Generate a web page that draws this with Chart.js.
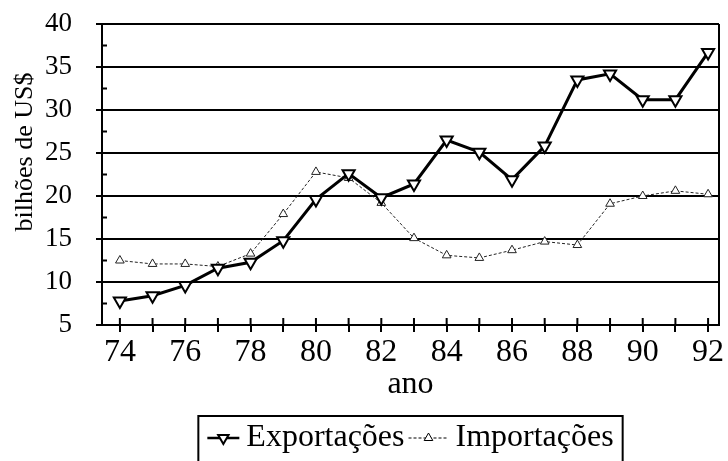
<!DOCTYPE html>
<html>
<head>
<meta charset="utf-8">
<script src="https://cdn.jsdelivr.net/npm/chart.js@4/dist/chart.umd.min.js"></script>
<style>
  body { margin: 0; background: #fff; }
  #wrap { width: 728px; height: 461px; }
</style>
</head>
<body>
<div id="wrap"><canvas id="tradeChart" width="728" height="461"></canvas></div>
<script>
// values
const years = [74, 75, 76, 77, 78, 79, 80, 81, 82, 83, 84, 85, 86, 87, 88, 89, 90, 91, 92];
const exportacoes = [7.8, 8.4, 9.6, 11.6, 12.3, 14.8, 19.6, 22.6, 19.8, 21.4, 26.5, 25.1, 21.9, 25.8, 33.5, 34.2, 31.2, 31.2, 36.7];
const importacoes = [12.5, 12.1, 12.1, 11.8, 13.3, 17.9, 22.8, 22.1, 19.2, 15.1, 13.1, 12.8, 13.7, 14.7, 14.3, 19.1, 20.0, 20.6, 20.2];
const yTicks = [5, 10, 15, 20, 25, 30, 35, 40];

const serif = '"Liberation Serif", "Times New Roman", serif';

function triangle(ctx, x, y, r, down) {
    const s = down ? -1 : 1;
    ctx.beginPath();
    ctx.moveTo(x, y - s * r);
    ctx.lineTo(x + r * 0.866, y + s * r * 0.5);
    ctx.lineTo(x - r * 0.866, y + s * r * 0.5);
    ctx.closePath();
    ctx.fill();
    ctx.stroke();
}

// frame, inner tick marks, y title and the boxed legend
const extras = {
    id: 'extras',
    afterDraw(chart) {
        const ctx = chart.ctx;
        const a = chart.chartArea;
        const xs = chart.scales.x, ys = chart.scales.y;
        ctx.save();
        ctx.strokeStyle = '#000';
        ctx.lineWidth = 2;
        ctx.beginPath();
        ctx.moveTo(a.right, a.top);
        ctx.lineTo(a.right, a.bottom);
        ctx.stroke();
        ctx.beginPath();
        years.forEach(v => {
            const px = xs.getPixelForValue(v);
            ctx.moveTo(px, a.bottom);
            ctx.lineTo(px, a.bottom - 7);
        });
        for (let v = 7.5; v < 40; v += 5) {
            const py = ys.getPixelForValue(v);
            ctx.moveTo(a.left, py);
            ctx.lineTo(a.left + 5, py);
        }
        ctx.stroke();

        // y axis title, sits a bit above the middle in the original
        ctx.fillStyle = '#000';
        ctx.save();
        ctx.translate(25, 152);
        ctx.rotate(-Math.PI / 2);
        ctx.font = '26px ' + serif;
        ctx.textAlign = 'center';
        ctx.textBaseline = 'middle';
        ctx.fillText('bilhões de US$', 0, 0);
        ctx.restore();

        // legend
        ctx.font = '32px ' + serif;
        ctx.textBaseline = 'middle';
        const items = [
            { text: 'Exportações', down: true, r: 6, lw: 2.5, dash: [], len: 32 },
            { text: 'Importações', down: false, r: 5, lw: 1, dash: [3, 2], len: 40 }
        ];
        const gapT = 7, gapI = 4, pad = 9;
        let total = pad * 2 + gapI;
        items.forEach(it => { it.w = ctx.measureText(it.text).width; total += it.len + gapT + it.w; });
        const cx = (a.left + a.right) / 2;
        let x = cx - total / 2;
        const top = 416, cy = 438;
        ctx.lineWidth = 2;
        ctx.setLineDash([]);
        ctx.strokeRect(x, top, total, 70);
        x += pad;
        items.forEach(it => {
            ctx.lineWidth = it.lw;
            ctx.setLineDash(it.dash);
            ctx.beginPath();
            ctx.moveTo(x, cy);
            ctx.lineTo(x + it.len, cy);
            ctx.stroke();
            ctx.setLineDash([]);
            ctx.lineWidth = it.down ? 2 : 1;
            ctx.fillStyle = '#fff';
            triangle(ctx, x + it.len / 2, cy, it.r, it.down);
            ctx.fillStyle = '#000';
            x += it.len + gapT;
            ctx.fillText(it.text, x, cy);
            x += it.w + gapI;
        });
        ctx.restore();
    }
};

new Chart(document.getElementById('tradeChart'), {
    type: 'line',
    data: {
        datasets: [{
            label: 'Exportações',
            data: years.map((yr, i) => ({ x: yr, y: exportacoes[i] })),
            borderColor: '#000',
            borderWidth: 3,
            pointStyle: 'triangle',
            rotation: 180,
            pointRadius: 7,
            pointBorderWidth: 2,
            pointBackgroundColor: '#fff',
            pointBorderColor: '#000',
            tension: 0
        }, {
            label: 'Importações',
            data: years.map((yr, i) => ({ x: yr, y: importacoes[i] })),
            borderColor: '#222',
            borderWidth: 1,
            borderDash: [3, 2],
            pointStyle: 'triangle',
            pointRadius: 5,
            pointBorderWidth: 1,
            pointBackgroundColor: '#fff',
            pointBorderColor: '#222',
            tension: 0
        }]
    },
    options: {
        responsive: false,
        animation: false,
        layout: { padding: { top: 24, right: 5, bottom: 57, left: 0 } },
        plugins: { legend: { display: false }, tooltip: { enabled: false } },
        scales: {
            x: {
                type: 'linear',
                min: 73.453,
                max: 92.334,
                afterBuildTicks: s => { s.ticks = years.map(v => ({ value: v })); },
                afterFit: s => { s.height = 79; },
                grid: { drawOnChartArea: false, tickLength: 7, tickColor: '#000', lineWidth: 2 },
                border: { color: '#000', width: 2 },
                ticks: {
                    autoSkip: false,
                    maxRotation: 0,
                    padding: 1,
                    color: '#000',
                    font: { family: serif, size: 32 },
                    callback: v => (v % 2 === 0 ? String(v) : '')
                },
                title: { display: true, text: 'ano', color: '#000', padding: 0, font: { family: serif, size: 32 } }
            },
            y: {
                min: 5,
                max: 40,
                afterBuildTicks: s => {
                    const t = [];
                    for (let v = 5; v <= 40; v += 2.5) t.push({ value: v });
                    s.ticks = t;
                },
                afterFit: s => { s.width = 102; s.paddingTop = 0; s.paddingBottom = 0; },
                grid: {
                    color: c => (yTicks.includes(c.tick.value) ? '#000' : 'rgba(0,0,0,0)'),
                    tickColor: '#000',
                    lineWidth: 2,
                    tickLength: 6
                },
                border: { color: '#000', width: 2 },
                ticks: {
                    padding: 24,
                    color: '#000',
                    font: { family: serif, size: 27 },
                    callback: v => (yTicks.includes(v) ? String(v) : '')
                }
            }
        }
    },
    plugins: [extras]
});
</script>
</body>
</html>
